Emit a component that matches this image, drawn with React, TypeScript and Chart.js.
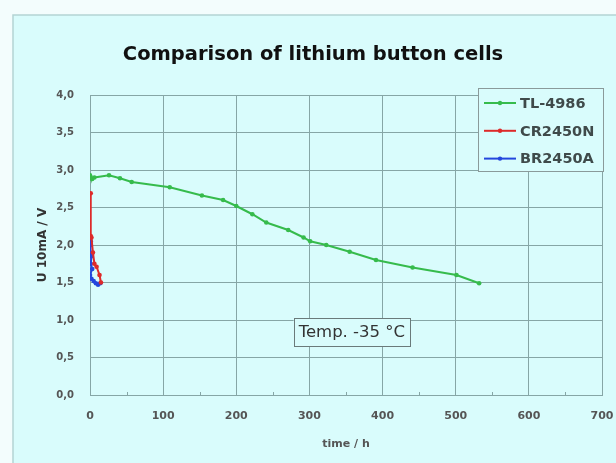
import React, { useEffect, useRef } from "react";
import { Chart, registerables } from "chart.js";

Chart.register(...registerables);

const seriesNames = ["TL-4986", "CR2450N", "BR2450A"];
const seriesColors = ["#36bb4c", "#dd2a2a", "#2346dd"];

const tlHours = [0, 1, 3, 6, 26, 41, 57, 109, 153, 182, 200, 222, 241, 271, 292, 301, 323, 355, 391, 441, 501, 532];
const tlVolts = [2.93, 2.9, 2.88, 2.9, 2.93, 2.89, 2.84, 2.77, 2.66, 2.6, 2.52, 2.41, 2.3, 2.2, 2.1, 2.05, 2.0, 1.91, 1.8, 1.7, 1.6, 1.49];

const crHours = [1, 1, 2, 4, 6, 9, 13, 15];
const crVolts = [2.69, 2.12, 2.1, 1.9, 1.75, 1.71, 1.6, 1.5];

const brHours = [1, 1, 0, 2, 1, 3, 0, 2, 5, 8, 11, 14];
const brVolts = [2.05, 2.0, 1.9, 1.85, 1.75, 1.68, 1.6, 1.55, 1.52, 1.49, 1.47, 1.49];

const xTickValues = [0, 100, 200, 300, 400, 500, 600, 700];
const yTickLabels = ["0,0", "0,5", "1,0", "1,5", "2,0", "2,5", "3,0", "3,5", "4,0"];

const titleText = "Comparison of lithium button cells";
const xTitle = "time / h";
const yTitle = "U 10mA / V";
const noteText = "Temp. -35 °C";
const notePos = { x: 358, y: 0.84 };

const PANEL = "#d9fcfc";
const GRID = "#86a6a6";

const toPoints = (xs: number[], ys: number[]) => xs.map((x, i) => ({ x, y: ys[i] }));

const panelPlugin = {
  id: "panel",
  beforeDraw(chart: any) {
    const { ctx, width, height } = chart;
    ctx.save();
    ctx.fillStyle = "#f3fdfd";
    ctx.fillRect(0, 0, width, height);
    ctx.fillStyle = PANEL;
    ctx.fillRect(13, 15, width, height);
    ctx.strokeStyle = "#b4d4d4";
    ctx.lineWidth = 1.5;
    ctx.beginPath();
    ctx.moveTo(13, height + 2);
    ctx.lineTo(13, 15);
    ctx.lineTo(width + 2, 15);
    ctx.stroke();
    ctx.restore();
  },
};

const extrasPlugin = {
  id: "extras",
  afterDraw(chart: any) {
    const { ctx, chartArea } = chart;
    const xs = chart.scales.x;
    const ys = chart.scales.y;
    ctx.save();
    // minor ticks on x axis
    ctx.strokeStyle = GRID;
    ctx.lineWidth = 1;
    for (let v = 50; v < 700; v += 100) {
      const px = Math.round(xs.getPixelForValue(v)) + 0.5;
      ctx.beginPath();
      ctx.moveTo(px, chartArea.bottom);
      ctx.lineTo(px, chartArea.bottom - 3);
      ctx.stroke();
    }
    // note box
    const cx = xs.getPixelForValue(notePos.x);
    const cy = ys.getPixelForValue(notePos.y);
    ctx.font = "16.5px 'DejaVu Sans'";
    const tw = ctx.measureText(noteText).width;
    const bw = tw + 10;
    const bh = 28;
    ctx.fillStyle = PANEL;
    ctx.fillRect(cx - bw / 2, cy - bh / 2, bw, bh);
    ctx.strokeStyle = "#6a7a7a";
    ctx.strokeRect(Math.round(cx - bw / 2) + 0.5, Math.round(cy - bh / 2) + 0.5, Math.round(bw), bh);
    ctx.fillStyle = "#333";
    ctx.textAlign = "center";
    ctx.textBaseline = "middle";
    ctx.fillText(noteText, cx, cy + 1);

    // legend box
    const lx = 478, ly = 88, lw = 125, lh = 83;
    ctx.fillStyle = PANEL;
    ctx.fillRect(lx, ly, lw, lh);
    ctx.strokeStyle = "#8a9a9a";
    ctx.strokeRect(lx + 0.5, ly + 0.5, lw, lh);
    ctx.font = "bold 14.5px 'DejaVu Sans'";
    ctx.textAlign = "left";
    chart.data.datasets.forEach((ds: any, i: number) => {
      const yy = ly + 15 + i * 27.8;
      ctx.strokeStyle = ds.borderColor;
      ctx.lineWidth = 2;
      ctx.beginPath();
      ctx.moveTo(484, yy);
      ctx.lineTo(516, yy);
      ctx.stroke();
      ctx.fillStyle = ds.borderColor;
      ctx.beginPath();
      ctx.arc(500, yy, 2.2, 0, Math.PI * 2);
      ctx.fill();
      ctx.fillStyle = "#3f4a4a";
      ctx.fillText(ds.label, 520, yy + 1);
    });
    ctx.restore();
  },
};

export default function App() {
  const ref = useRef<HTMLCanvasElement | null>(null);
  useEffect(() => {
    if (!ref.current) return;
    const mk = (i: number, xs: number[], ys: number[]) => ({
      label: seriesNames[i],
      data: toPoints(xs, ys),
      borderColor: seriesColors[i],
      backgroundColor: seriesColors[i],
      borderWidth: 2,
      pointRadius: 2.3,
      pointBorderWidth: 0,
      pointBackgroundColor: seriesColors[i],
      tension: 0,
    });
    const chart = new Chart(ref.current, {
      type: "line",
      data: {
        datasets: [mk(0, tlHours, tlVolts), mk(1, crHours, crVolts), mk(2, brHours, brVolts)],
      },
      options: {
        animation: false,
        responsive: false,
        devicePixelRatio: 1,
        layout: { padding: { left: 24, right: 14, top: 0, bottom: 0 } },
        plugins: {
          legend: { display: false },
          tooltip: { enabled: false },
          title: {
            display: true,
            text: titleText,
            color: "#111",
            font: { family: "'DejaVu Sans'", size: 19.5, weight: "bold", lineHeight: 1.2 },
            padding: { top: 43.3, bottom: 28.3 },
          },
        },
        scales: {
          x: {
            type: "linear",
            min: 0,
            max: 700,
            afterBuildTicks: (s: any) => {
              s.ticks = xTickValues.map((v) => ({ value: v }));
            },
            afterFit: (s: any) => {
              s.height = 68;
              s.paddingLeft = 0;
              s.paddingRight = 0;
            },
            ticks: {
              color: "#555",
              font: { family: "'DejaVu Sans'", size: 11, weight: "bold" },
              padding: 15,
              maxRotation: 0,
            },
            grid: { color: GRID, drawTicks: false, lineWidth: 1 },
            border: { color: GRID, width: 1 },
            title: {
              display: true,
              text: xTitle,
              color: "#555",
              font: { family: "'DejaVu Sans'", size: 11, weight: "bold", lineHeight: 1.2 },
              padding: { top: 0, bottom: 12.4 },
            },
          },
          y: {
            type: "linear",
            min: 0,
            max: 4,
            ticks: {
              stepSize: 0.5,
              color: "#555",
              font: { family: "'DejaVu Sans'", size: 10, weight: "bold" },
              padding: 16,
              callback: (_v: any, i: number) => yTickLabels[i],
            },
            afterFit: (s: any) => {
              s.width = 66;
              s.paddingTop = 0;
              s.paddingBottom = 0;
            },
            grid: { color: GRID, drawTicks: false, lineWidth: 1 },
            border: { color: GRID, width: 1 },
            title: {
              display: true,
              text: yTitle,
              color: "#333",
              font: { family: "'DejaVu Sans'", size: 12, weight: "bold", lineHeight: 1.2 },
              padding: { top: 11.8, bottom: 0 },
            },
          },
        },
      },
      plugins: [panelPlugin, extrasPlugin],
    } as any);
    return () => chart.destroy();
  }, []);
  return (
    <div style={{ position: "fixed", left: 0, top: 0, width: 616, height: 463 }}>
      <canvas ref={ref} width={616} height={463} style={{ width: 616, height: 463, display: "block" }} />
    </div>
  );
}
